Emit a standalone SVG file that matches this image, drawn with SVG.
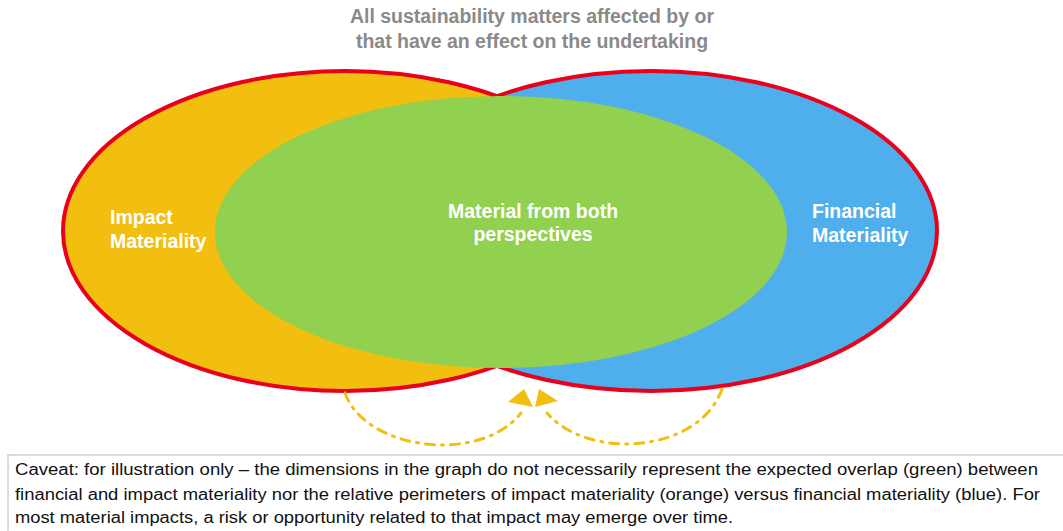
<svg xmlns="http://www.w3.org/2000/svg" width="1063" height="531" viewBox="0 0 1063 531">
<style>
.title{font-family:"Liberation Sans",Arial,sans-serif;font-weight:bold;font-size:19.5px;fill:#8a8a8a;text-anchor:middle}
.lbl{font-family:"Liberation Sans",Arial,sans-serif;font-weight:bold;font-size:19.5px;fill:#ffffff}
.cav{font-family:"Liberation Sans Narrow","Liberation Sans",Arial,sans-serif;font-size:16px;fill:#111}
.arc{fill:none;stroke:#F2BE10;stroke-width:3;stroke-dasharray:9 7 2 7;stroke-linecap:round}
.head{fill:#F2BE10}
</style>
<rect width="1063" height="531" fill="#fff"/>
<g id="title">
<text class="title" x="532" y="23">All sustainability matters affected by or</text>
<text class="title" x="532" y="48">that have an effect on the undertaking</text>
</g>
<g id="impact">
<ellipse cx="345" cy="231" rx="282" ry="160" fill="#F2BE10" stroke="#E8001C" stroke-width="4"/>
</g>
<g id="financial">
<ellipse cx="651" cy="231" rx="286" ry="160" fill="#4FAEEC" stroke="#E8001C" stroke-width="4"/>
</g>
<g id="both">
<ellipse cx="501" cy="232" rx="286" ry="136" fill="#92D050"/>
</g>
<g id="labels">
<text class="lbl" x="110" y="224">Impact</text>
<text class="lbl" x="110" y="248">Materiality</text>
<text class="lbl" x="812" y="218">Financial</text>
<text class="lbl" x="812" y="242">Materiality</text>
<text class="lbl" x="533" y="218" text-anchor="middle">Material from both</text>
<text class="lbl" x="533" y="241" text-anchor="middle">perspectives</text>
</g>
<g id="connectors">
<path class="arc" d="M345,393 C365,450 480,465 521,413"/>
<path class="arc" d="M722,389 C700,452 590,462 547,413"/>
<polygon class="head" points="508,402 524,389 533,407"/>
<polygon class="head" points="535,407 539,389 558,401"/>
</g>
<g id="caveat">
<rect x="8" y="455" width="1060" height="80" fill="#fff" stroke="#d0d0d0" stroke-width="1.5"/>
<text class="cav" x="15" y="475" textLength="1023" lengthAdjust="spacingAndGlyphs">Caveat: for illustration only – the dimensions in the graph do not necessarily represent the expected overlap (green) between</text>
<text class="cav" x="15" y="500" textLength="1025" lengthAdjust="spacingAndGlyphs">financial and impact materiality nor the relative perimeters of impact materiality (orange) versus financial materiality (blue). For</text>
<text class="cav" x="15" y="523" textLength="718" lengthAdjust="spacingAndGlyphs">most material impacts, a risk or opportunity related to that impact may emerge over time.</text>
</g>
</svg>
